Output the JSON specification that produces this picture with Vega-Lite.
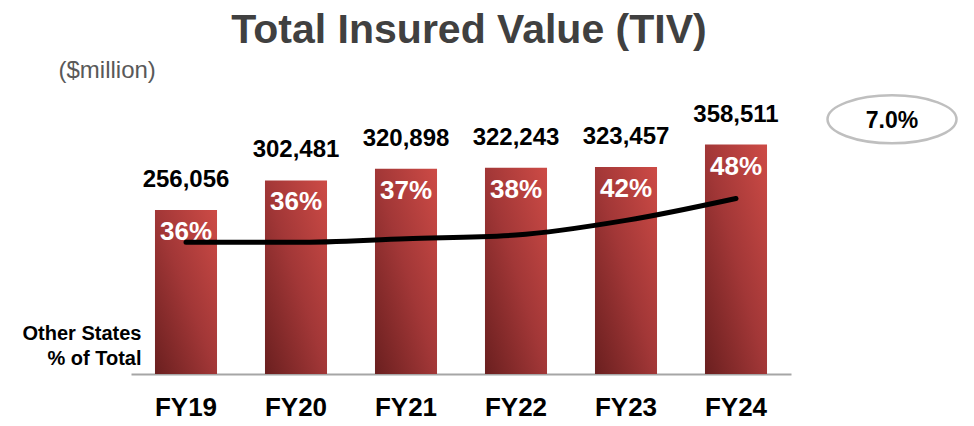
{
  "$schema": "https://vega.github.io/schema/vega-lite/v6.json",
  "width": 660,
  "height": 256,
  "autosize": {"type": "none"},
  "padding": {"left": 131, "top": 118, "right": 183, "bottom": 52},
  "background": "white",
  "config": {"font": "Liberation Sans", "view": {"stroke": null}},
  "title": {
    "text": "Total Insured Value (TIV)",
    "fontSize": 41,
    "fontWeight": "bold",
    "color": "#404040",
    "anchor": "middle",
    "dx": 8,
    "dy": 38,
    "baseline": "alphabetic",
    "offset": 12
  },
  "datasets": {
    "tiv": [
      {"FY": "FY19", "TIV": 256056, "Pct": 0.36},
      {"FY": "FY20", "TIV": 302481, "Pct": 0.36},
      {"FY": "FY21", "TIV": 320898, "Pct": 0.37},
      {"FY": "FY22", "TIV": 322243, "Pct": 0.38},
      {"FY": "FY23", "TIV": 323457, "Pct": 0.42},
      {"FY": "FY24", "TIV": 358511, "Pct": 0.48}
    ],
    "cagr": [{"label": "7.0%"}]
  },
  "data": {"name": "tiv"},
  "encoding": {
    "x": {
      "field": "FY",
      "type": "nominal",
      "sort": null,
      "scale": {"paddingInner": 0.436, "paddingOuter": 0.218},
      "axis": {
        "title": ["Other States", "% of Total"],
        "titleX": 10,
        "titleY": -35,
        "titleAlign": "right",
        "titleAnchor": null,
        "titleBaseline": "alphabetic",
        "titleFontSize": 20,
        "titleFontWeight": "bold",
        "titleColor": "#000000",
        "titleLineHeight": 25,
        "titleAngle": 0,
        "labelFontSize": 26,
        "labelFontWeight": "bold",
        "labelColor": "#000000",
        "labelPadding": 20,
        "labelAngle": 0,
        "ticks": false,
        "domainColor": "#a6a6a6",
        "domainWidth": 2
      }
    }
  },
  "layer": [
    {
      "mark": {
        "type": "bar",
        "color": {
          "gradient": "linear",
          "x1": 0, "y1": 1, "x2": 1, "y2": 0,
          "stops": [
            {"offset": 0, "color": "#6a1f1f"},
            {"offset": 0.5, "color": "#a23737"},
            {"offset": 1, "color": "#cd4b46"}
          ]
        }
      },
      "encoding": {
        "y": {
          "field": "TIV",
          "type": "quantitative",
          "scale": {"domain": [0, 400000]},
          "axis": {
            "title": "($million)",
            "titleAngle": 0,
            "titleX": -73,
            "titleY": -41,
            "titleAlign": "left",
            "titleAnchor": null,
            "titleBaseline": "alphabetic",
            "titleFontSize": 24,
            "titleFontWeight": "normal",
            "titleColor": "#595959",
            "labels": false,
            "ticks": false,
            "domain": false,
            "grid": false
          }
        }
      }
    },
    {
      "mark": {"type": "text", "dy": -23, "baseline": "alphabetic", "fontSize": 24, "fontWeight": "bold", "color": "#000000"},
      "encoding": {
        "y": {"field": "TIV", "type": "quantitative", "scale": {"domain": [0, 400000]}, "axis": null},
        "text": {"field": "TIV", "type": "quantitative", "format": ","}
      }
    },
    {
      "mark": {"type": "text", "dy": 22, "baseline": "middle", "fontSize": 26, "fontWeight": "bold", "color": "#ffffff"},
      "encoding": {
        "y": {"field": "TIV", "type": "quantitative", "scale": {"domain": [0, 400000]}, "axis": null},
        "text": {"field": "Pct", "type": "quantitative", "format": ".0%"}
      }
    },
    {
      "mark": {"type": "line", "interpolate": "monotone", "color": "#000000", "strokeWidth": 5, "strokeCap": "round"},
      "encoding": {
        "y": {"field": "Pct", "type": "quantitative", "scale": {"domain": [0, 0.7]}, "axis": null}
      }
    },
    {
      "data": {"name": "cagr"},
      "mark": {
        "type": "point",
        "shape": "M-1,0A1,0.372,0,1,0,1,0A1,0.372,0,1,0,-1,0Z",
        "size": 16641,
        "filled": false,
        "stroke": "#bfbfbf",
        "strokeWidth": 2.5,
        "opacity": 1,
        "xOffset": 156
      },
      "encoding": {
        "x": {"datum": "FY24"},
        "y": {"datum": 398000, "type": "quantitative", "scale": {"domain": [0, 400000]}, "axis": null}
      }
    },
    {
      "data": {"name": "cagr"},
      "mark": {"type": "text", "baseline": "middle", "align": "center", "fontSize": 23, "fontWeight": "bold", "color": "#000000", "xOffset": 156, "dy": 2},
      "encoding": {
        "x": {"datum": "FY24"},
        "y": {"datum": 398000, "type": "quantitative", "scale": {"domain": [0, 400000]}, "axis": null},
        "text": {"field": "label"}
      }
    }
  ],
  "resolve": {"scale": {"y": "independent"}}
}
